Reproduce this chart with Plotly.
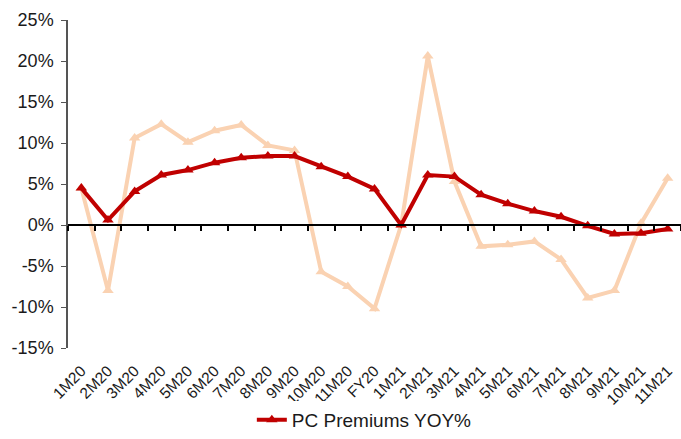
import plotly.graph_objects as go

categories = ["1M20", "2M20", "3M20", "4M20", "5M20", "6M20", "7M20", "8M20", "9M20",
              "10M20", "11M20", "FY20", "1M21", "2M21", "3M21", "4M21", "5M21", "6M21",
              "7M21", "8M21", "9M21", "10M21", "11M21"]
pc_premiums_yoy = [4.5, 0.6, 4.1, 6.1, 6.7, 7.6, 8.2, 8.4, 8.4, 7.1, 5.9, 4.4, 0.0,
                   6.1, 5.9, 3.7, 2.6, 1.7, 1.0, -0.1, -1.1, -1.0, -0.5]
monthly_yoy = [4.5, -8.0, 10.6, 12.3, 10.1, 11.5, 12.2, 9.7, 9.1, -5.7, -7.5, -10.2, 0.0,
               20.6, 5.3, -2.6, -2.4, -2.0, -4.2, -8.9, -8.0, 0.2, 5.7]
y_ticks = [-15, -10, -5, 0, 5, 10, 15, 20, 25]

RED = "#C00000"
PEACH = "#FAD2B2"
FONT = "Liberation Sans, Arial, sans-serif"

fig = go.Figure()
fig.add_trace(go.Scatter(
    x=categories, y=monthly_yoy, mode="lines+markers", name="Monthly YOY%",
    line=dict(color=PEACH, width=4), marker=dict(symbol="triangle-up", size=10, color=PEACH),
    showlegend=False))
fig.add_trace(go.Scatter(
    x=categories, y=pc_premiums_yoy, mode="lines+markers", name="PC Premiums YOY%",
    line=dict(color=RED, width=4), marker=dict(symbol="triangle-up", size=10, color=RED)))
# invisible trace to carry the zero-line axis with category-boundary ticks
fig.add_trace(go.Scatter(x=categories, y=[0] * len(categories), xaxis="x2", mode="lines",
                         line=dict(width=0), hoverinfo="skip", showlegend=False))

ymin, ymax = -15, 25
fig.update_layout(
    width=681, height=439, autosize=False,
    margin=dict(l=68, r=0, t=20, b=91),
    plot_bgcolor="white", paper_bgcolor="white",
    font=dict(family=FONT, color="#1a1a1a"),
    xaxis=dict(type="category", tickangle=-45, tickfont=dict(size=15.5), showgrid=False,
               zeroline=False, showline=False, ticks="", automargin=False,
               ticklabelstandoff=10, range=[-0.5, len(categories) - 0.5]),
    xaxis2=dict(type="category", overlaying="x", matches="x", anchor="free",
                position=(0 - ymin) / (ymax - ymin), side="bottom", automargin=False,
                showline=True, linecolor="black", linewidth=2,
                ticks="outside", ticklen=5, tickcolor="black", tickwidth=1.5,
                tickson="boundaries", showticklabels=False, showgrid=False),
    yaxis=dict(range=[ymin, ymax], tickvals=y_ticks, ticktext=[f"{v}%" for v in y_ticks],
               tickfont=dict(size=18), showgrid=False, zeroline=False, automargin=False,
               showline=True, linecolor="#555", linewidth=1.5,
               ticks="outside", ticklen=5, tickcolor="#555", ticklabelstandoff=4),
    legend=dict(orientation="h", xref="container", yref="container",
                x=0.535, xanchor="center", y=-0.02, yanchor="bottom",
                font=dict(size=19)),
)
fig.write_html("out.html", config={"displayModeBar": False, "responsive": False},
               post_script="document.body.style.margin='0px';")
